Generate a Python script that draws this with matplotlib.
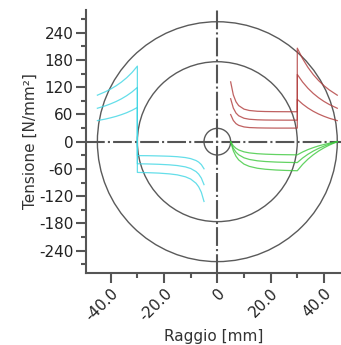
import matplotlib
matplotlib.use("Agg")
import matplotlib.pyplot as plt
import numpy as np
from matplotlib.patches import Ellipse

# radii [mm]
r_inner = [5, 6, 7, 8, 10, 12, 15, 18, 22, 26, 30]
r_outer = [30, 32, 34, 36, 38, 40, 42, 45]
circle_radii = [5, 30, 45]

# hoop stress (plotted at -r), three interference levels
hoop_in = [
    [-59.7, -50.5, -45.0, -41.5, -37.3, -35.0, -33.1, -32.1, -31.4, -30.9, -30.7],
    [-94.6, -80.2, -71.5, -65.8, -59.1, -55.5, -52.6, -51.0, -49.8, -49.1, -48.6],
    [-131.7, -111.5, -99.4, -91.5, -82.3, -77.3, -73.1, -70.9, -69.2, -68.3, -67.7],
]
hoop_out = [
    [75.4, 69.1, 63.8, 59.5, 55.7, 52.6, 49.8, 46.4],
    [119.6, 109.6, 101.3, 94.3, 88.4, 83.4, 79.0, 73.6],
    [166.4, 152.4, 140.9, 131.2, 123.0, 116.0, 110.0, 102.4],
]

# radial stress
radial_in = [
    [0, -9.1, -14.6, -18.2, -22.4, -24.7, -26.5, -27.5, -28.3, -28.7, -29.0],
    [0, -14.5, -23.2, -28.8, -35.5, -39.1, -42.1, -43.7, -44.9, -45.6, -46.0],
    [0, -20.1, -32.2, -40.1, -49.4, -54.4, -58.5, -60.7, -62.4, -63.4, -64.0],
]
radial_out = [
    [-29.0, -22.7, -17.4, -13.1, -9.3, -6.2, -3.4, 0],
    [-46.0, -36.0, -27.7, -20.7, -14.8, -9.8, -5.4, 0],
    [-64.0, -50.0, -38.5, -28.8, -20.6, -13.6, -7.6, 0],
]

# equivalent stress
equiv_in = [
    [59.7, 46.7, 39.8, 36.0, 32.5, 31.1, 30.4, 30.1, 29.9, 29.9, 29.9],
    [94.6, 74.0, 63.1, 57.1, 51.6, 49.4, 48.2, 47.7, 47.5, 47.4, 47.4],
    [131.7, 103.0, 87.9, 79.5, 71.7, 68.7, 67.0, 66.4, 66.1, 66.0, 65.9],
]
equiv_out = [
    [93.3, 82.8, 74.1, 66.9, 60.9, 55.9, 51.6, 46.4],
    [148.1, 131.3, 117.6, 106.2, 96.7, 88.7, 81.9, 73.6],
    [206.0, 182.7, 163.6, 147.7, 134.5, 123.4, 114.0, 102.4],
]

x_ticks = [-40, -20, 0, 20, 40]
x_ticklabels = ["-40.0", "-20.0", "0", "20.0", "40.0"]
y_ticks = [-240, -180, -120, -60, 0, 60, 120, 180, 240]

CYAN = "#3ed6e4"
RED = "#b03a3a"
GREEN = "#3cc83c"
GRAY = "#555555"

plt.rcParams['font.family'] = ['DejaVu Sans']
plt.rcParams['axes.unicode_minus'] = False

fig = plt.figure(figsize=(3.41, 3.45), dpi=100)
ax = fig.add_axes([0.252, 0.209, 0.748, 0.762])
xlim = (-49.3, 46.4)
ylim = (-289, 290)
ax.set_xlim(*xlim)
ax.set_ylim(*ylim)

r_all = np.array(r_inner + r_outer)
for i in range(3):
    ax.plot(-r_all, hoop_in[i] + hoop_out[i], color=CYAN, lw=0.9, alpha=0.8, zorder=3)
    ax.plot(r_all, equiv_in[i] + equiv_out[i], color=RED, lw=0.9, alpha=0.8, zorder=3)
    ax.plot(r_all, radial_in[i] + radial_out[i], color=GREEN, lw=0.9, alpha=0.8, zorder=3)

# circles drawn round in pixel space
fig.canvas.draw()
bb = ax.get_window_extent()
kx = bb.width / (xlim[1] - xlim[0])
ky = bb.height / (ylim[1] - ylim[0])
for r in circle_radii:
    ax.add_patch(Ellipse((0, 0), 2 * r, 2 * r * kx / ky, fill=False,
                         edgecolor="#5a5a5a", lw=1.0, zorder=2))

ax.axhline(0, color=GRAY, lw=1.5, dashes=(9, 1.5, 1, 1.5), zorder=2)
ax.axvline(0, color=GRAY, lw=1.5, dashes=(9, 1.5, 1, 1.5), zorder=2)

ax.spines['top'].set_visible(False)
ax.spines['right'].set_visible(False)
for s in ['left', 'bottom']:
    ax.spines[s].set_color(GRAY)
    ax.spines[s].set_linewidth(1.5)

ax.set_xticks(x_ticks)
ax.set_xticklabels(x_ticklabels, rotation=45, ha='right', va='top', rotation_mode='anchor')
ax.set_xticks([-30, -10, 10, 30], minor=True)
ax.set_yticks(y_ticks)
ax.set_yticks([-270, -210, -150, -90, -30, 30, 90, 150, 210, 270], minor=True)
ax.tick_params(which='major', length=7, width=1.5, color=GRAY, labelsize=11,
               labelcolor='#222222', pad=2)
ax.tick_params(which='minor', length=3.5, width=1.5, color=GRAY)

ax.set_xlabel("Raggio [mm]", fontsize=11, color='#333333', labelpad=3.5)
ax.set_ylabel("Tensione [N/mm²]", fontsize=11, color='#333333', labelpad=1)

fig.savefig("out.png", dpi=100)
